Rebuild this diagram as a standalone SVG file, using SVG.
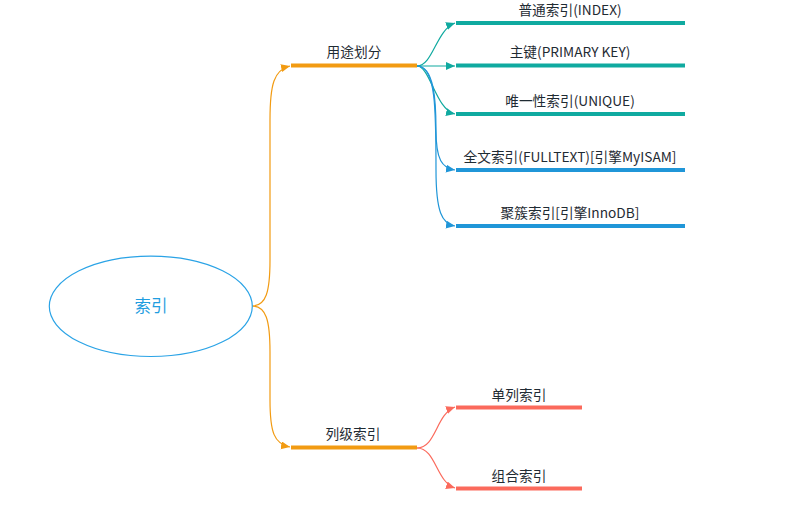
<svg xmlns="http://www.w3.org/2000/svg" width="796" height="509" viewBox="0 0 796 509">
<defs>
<style>
.lbl{font-family:"Noto Sans CJK SC","Liberation Sans",sans-serif;font-size:13.7px;fill:#1f2b33;text-anchor:middle}
.root{font-family:"Noto Sans CJK SC","Liberation Sans",sans-serif;font-size:16.5px;fill:#1f9de0;text-anchor:middle}
.bar{stroke-width:4;fill:none}
.c{fill:none;stroke-width:1.2}
</style>
<marker id="aO" markerUnits="userSpaceOnUse" markerWidth="10" markerHeight="9" refX="9" refY="4" orient="auto"><path d="M0,0 L9,4 L0,8 z" fill="#f29b12"/></marker>
<marker id="aT" markerUnits="userSpaceOnUse" markerWidth="10" markerHeight="9" refX="9" refY="4" orient="auto"><path d="M0,0 L9,4 L0,8 z" fill="#10aaa0"/></marker>
<marker id="aB" markerUnits="userSpaceOnUse" markerWidth="10" markerHeight="9" refX="9" refY="4" orient="auto"><path d="M0,0 L9,4 L0,8 z" fill="#2096d8"/></marker>
<marker id="aR" markerUnits="userSpaceOnUse" markerWidth="10" markerHeight="9" refX="9" refY="4" orient="auto"><path d="M0,0 L9,4 L0,8 z" fill="#fb6a5c"/></marker>
</defs>
<rect width="796" height="509" fill="#ffffff"/>
<g id="connectors">
<path class="c" stroke="#f29b12" marker-end="url(#aO)" d="M252,306 C266,306 270,292 270,260 L270,120 C270,84 274,70 290,66"/>
<path class="c" stroke="#f29b12" marker-end="url(#aO)" d="M252,306 C266,306 270,320 270,352 L270,400 C270,432 274,444 290,447"/>
<path class="c" stroke="#10aaa0" marker-end="url(#aT)" d="M417,66 C433,66 436,30 455,23"/>
<path class="c" stroke="#10aaa0" marker-end="url(#aT)" d="M417,66 L455,66"/>
<path class="c" stroke="#10aaa0" marker-end="url(#aT)" d="M417,66 C430,66 436,110 455,114"/>
<path class="c" stroke="#2096d8" marker-end="url(#aB)" d="M417,66 C434,66 436,100 436,130 C436,160 442,168 455,170"/>
<path class="c" stroke="#2096d8" marker-end="url(#aB)" d="M417,66 C436,66 436,110 436,170 C436,212 442,224 455,226"/>
<path class="c" stroke="#fb6a5c" marker-end="url(#aR)" d="M417,448 C436,448 436,414 455,407"/>
<path class="c" stroke="#fb6a5c" marker-end="url(#aR)" d="M417,448 C436,448 436,482 455,488"/>
</g>
<g id="root">
<ellipse cx="150.8" cy="306.3" rx="101.5" ry="50.2" fill="#ffffff" stroke="#2aa3e6" stroke-width="1.2"/>
<text class="root" x="151" y="312">索引</text>
</g>
<g id="n-yongtu">
<line class="bar" stroke="#f29b12" x1="291" y1="65.5" x2="417" y2="65.5"/>
<text class="lbl" x="354" y="57">用途划分</text>
</g>
<g id="n-lieji">
<line class="bar" stroke="#f29b12" x1="291" y1="447.5" x2="417" y2="447.5"/>
<text class="lbl" x="353" y="439">列级索引</text>
</g>
<g id="n-index">
<line class="bar" stroke="#10aaa0" x1="456" y1="23" x2="685" y2="23"/>
<text class="lbl" x="570" y="15">普通索引(INDEX)</text>
</g>
<g id="n-primary">
<line class="bar" stroke="#10aaa0" x1="456" y1="65.5" x2="685" y2="65.5"/>
<text class="lbl" x="570" y="57">主键(PRIMARY KEY)</text>
</g>
<g id="n-unique">
<line class="bar" stroke="#10aaa0" x1="456" y1="114" x2="685" y2="114"/>
<text class="lbl" x="570" y="106">唯一性索引(UNIQUE)</text>
</g>
<g id="n-fulltext">
<line class="bar" stroke="#2096d8" x1="456" y1="170" x2="685" y2="170"/>
<text class="lbl" x="570" y="162">全文索引(FULLTEXT)[引擎MyISAM]</text>
</g>
<g id="n-cluster">
<line class="bar" stroke="#2096d8" x1="456" y1="226" x2="685" y2="226"/>
<text class="lbl" x="570" y="218">聚簇索引[引擎InnoDB]</text>
</g>
<g id="n-single">
<line class="bar" stroke="#fb6a5c" x1="456" y1="407.5" x2="582" y2="407.5"/>
<text class="lbl" x="519" y="400">单列索引</text>
</g>
<g id="n-combo">
<line class="bar" stroke="#fb6a5c" x1="456" y1="488.5" x2="582" y2="488.5"/>
<text class="lbl" x="519" y="481">组合索引</text>
</g>
</svg>
